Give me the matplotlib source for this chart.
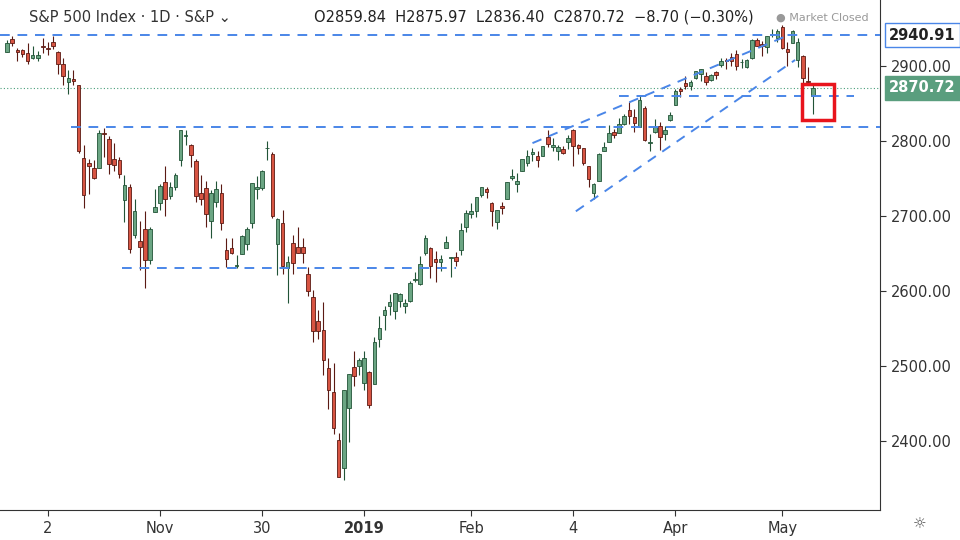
import matplotlib
matplotlib.use("Agg")
import matplotlib.pyplot as plt
from matplotlib.patches import Rectangle

dates = ["09-20","09-21","09-24","09-25","09-26","09-27","09-28",
"10-01","10-02","10-03","10-04","10-05","10-08","10-09","10-10","10-11","10-12","10-15","10-16","10-17","10-18","10-19","10-22","10-23","10-24","10-25","10-26","10-29","10-30","10-31",
"11-01","11-02","11-05","11-06","11-07","11-08","11-09","11-12","11-13","11-14","11-15","11-16","11-19","11-20","11-21","11-23","11-26","11-27","11-28","11-29","11-30",
"12-03","12-04","12-06","12-07","12-10","12-11","12-12","12-13","12-14","12-17","12-18","12-19","12-20","12-21","12-24","12-26","12-27","12-28","12-31",
"01-02","01-03","01-04","01-07","01-08","01-09","01-10","01-11","01-14","01-15","01-16","01-17","01-18","01-22","01-23","01-24","01-25","01-28","01-29","01-30","01-31",
"02-01","02-04","02-05","02-06","02-07","02-08","02-11","02-12","02-13","02-14","02-15","02-19","02-20","02-21","02-22","02-25","02-26","02-27","02-28",
"03-01","03-04","03-05","03-06","03-07","03-08","03-11","03-12","03-13","03-14","03-15","03-18","03-19","03-20","03-21","03-22","03-25","03-26","03-27","03-28","03-29",
"04-01","04-02","04-03","04-04","04-05","04-08","04-09","04-10","04-11","04-12","04-15","04-16","04-17","04-18","04-22","04-23","04-24","04-25","04-26","04-29","04-30",
"05-01","05-02","05-03","05-06","05-07","05-08","05-09"]
opens = [2919,2936,2921,2921,2917,2911,2910,
2927,2924,2932,2919,2903,2878,2882,2874,2777,2771,2764,2764,2811,2803,2776,2774,2721,2738,2674,2667,2683,2641,2705,
2717,2745,2727,2738,2775,2807,2794,2773,2731,2737,2693,2718,2731,2654,2657,2633,2649,2663,2691,2736,2737,
2790,2783,2663,2691,2630,2664,2659,2658,2622,2591,2559,2548,2497,2465,2401,2363,2443,2498,2499,
2477,2491,2475,2536,2568,2580,2573,2586,2580,2586,2614,2609,2651,2657,2643,2638,2657,2644,2645,2654,2685,
2703,2706,2728,2736,2717,2692,2713,2722,2751,2743,2760,2770,2782,2780,2780,2805,2792,2787,2789,
2798,2814,2795,2790,2766,2731,2747,2787,2799,2812,2810,2822,2841,2832,2819,2844,2797,2812,2820,2809,2828,
2848,2869,2877,2873,2884,2889,2886,2881,2892,2901,2908,2912,2916,2905,2899,2910,2935,2929,2925,2941,2937,
2952,2922,2930,2908,2913,2880,2859.84]
highs = [2934,2940,2924,2923,2931,2927,2920,
2937,2932,2940,2920,2910,2894,2894,2875,2795,2776,2775,2814,2817,2806,2797,2778,2754,2743,2723,2693,2707,2685,2736,
2742,2767,2745,2757,2815,2815,2796,2776,2754,2747,2735,2747,2742,2671,2670,2648,2675,2685,2744,2753,2761,
2800,2785,2697,2708,2646,2674,2685,2671,2632,2601,2574,2585,2510,2504,2410,2467,2489,2520,2510,
2520,2493,2538,2566,2580,2595,2597,2597,2589,2613,2625,2646,2675,2659,2653,2648,2673,2645,2652,2690,2708,
2717,2724,2738,2739,2719,2708,2718,2745,2762,2757,2775,2788,2790,2786,2793,2814,2804,2795,2793,
2808,2816,2796,2791,2767,2744,2784,2798,2821,2816,2830,2836,2852,2843,2861,2846,2809,2829,2825,2820,2838,
2869,2872,2886,2881,2893,2896,2892,2889,2893,2910,2910,2917,2921,2909,2909,2936,2937,2933,2940,2949,2949,
2954,2932,2948,2937,2914,2898,2875.97]
lows = [2919,2926,2907,2912,2903,2909,2907,
2917,2915,2922,2889,2874,2863,2874,2784,2710,2729,2749,2764,2779,2756,2760,2750,2692,2651,2670,2628,2604,2636,2705,
2708,2700,2722,2735,2766,2795,2765,2718,2714,2685,2670,2712,2681,2632,2649,2631,2649,2655,2684,2722,2735,
2774,2697,2621,2623,2583,2622,2650,2637,2593,2531,2535,2488,2442,2409,2351,2347,2398,2473,2487,
2467,2444,2475,2525,2547,2568,2562,2578,2570,2585,2612,2607,2648,2617,2612,2627,2657,2619,2633,2648,2678,
2697,2698,2725,2724,2687,2682,2703,2722,2748,2732,2760,2767,2773,2765,2780,2792,2787,2775,2782,
2789,2767,2782,2768,2739,2722,2747,2786,2799,2804,2810,2821,2823,2812,2818,2800,2786,2811,2788,2801,2826,
2848,2859,2869,2868,2883,2880,2874,2880,2882,2899,2896,2900,2894,2897,2897,2909,2927,2913,2917,2939,2932,
2923,2900,2930,2898,2862,2874,2836.40]
closes = [2931,2930,2919,2916,2906,2914,2914,
2925,2923,2926,2902,2886,2884,2880,2786,2728,2767,2751,2810,2809,2769,2768,2756,2741,2656,2706,2659,2641,2683,2712,
2740,2723,2738,2755,2814,2807,2781,2726,2722,2702,2730,2736,2691,2642,2650,2633,2673,2682,2744,2738,2760,
2790,2700,2696,2633,2638,2637,2651,2651,2600,2546,2546,2507,2467,2417,2351,2468,2489,2486,2507,
2510,2448,2532,2550,2574,2585,2597,2596,2583,2610,2616,2636,2671,2633,2639,2642,2665,2644,2640,2681,2704,
2707,2725,2738,2732,2706,2708,2710,2745,2753,2746,2776,2780,2785,2775,2793,2796,2794,2792,2784,
2804,2793,2790,2771,2749,2743,2783,2792,2811,2808,2822,2833,2833,2824,2855,2801,2798,2818,2805,2815,2834,
2867,2867,2873,2879,2893,2896,2878,2888,2888,2907,2906,2907,2900,2905,2908,2934,2927,2926,2940,2943,2946,
2924,2918,2946,2932,2884,2879,2870.72]
tick_dates = ["10-02","11-01","11-30","01-02","02-01","03-04","04-01","05-01"]
tick_labels = ["2","Nov","30","2019","Feb","4","Apr","May"]
y_ticks = [2400,2500,2600,2700,2800,2900]

UP, DN, EDGE = "#6ba583", "#d75442", "#225437"
fig = plt.figure(figsize=(9.6,5.4), dpi=100)
ax = fig.add_axes([0,0.055,0.917,0.945])
n = len(closes)
for i in range(n):
    o,h,l,c = opens[i],highs[i],lows[i],closes[i]
    up = c >= o
    ec = EDGE if up else "#5b1a13"
    ax.vlines(i, l, h, color=ec, lw=0.8, zorder=2)
    ax.add_patch(Rectangle((i-0.35, min(o,c)), 0.7, max(abs(c-o),0.8),
                 facecolor=UP if up else DN, edgecolor=ec, lw=0.6, zorder=3))
xl = (-1.4, 171.2)
ax.set_xlim(*xl); ax.set_ylim(2307, 2988)
dash = dict(color="#4a86e8", lw=1.4, ls=(0,(5,4)), zorder=4)
ax.plot(xl, [2940.91]*2, **dash)
ax.plot([12.5, xl[1]], [2818]*2, **dash)
ax.plot([22.5, 88], [2631]*2, **dash)
ax.plot([120, 166], [2860]*2, **dash)
ax.plot([103, 153.5], [2797, 2942], **dash)
ax.plot([111.5, 154.5], [2706, 2908], **dash)
ax.axhline(closes[-1], color="#4a9e7a", lw=0.8, ls=(0,(1,2)), zorder=1)
ax.add_patch(Rectangle((155.8, 2828), 6.3, 48, fill=False, edgecolor="#e8141c", lw=2.5, zorder=6))
ax.grid(False)
for s in ["top","left"]:
    ax.spines[s].set_visible(False)
ax.spines["right"].set_color("#333333"); ax.spines["bottom"].set_color("#333333")
ax.yaxis.tick_right()
ax.set_yticks(y_ticks); ax.set_yticklabels([f"{v:.2f}" for v in y_ticks])
ax.set_xticks([dates.index(d) for d in tick_dates]); ax.set_xticklabels(tick_labels)
for t in ax.get_xticklabels():
    if t.get_text()=="2019": t.set_fontweight("bold")
ax.tick_params(colors="#333333", labelsize=10.5, length=4)
ax.text(1.01, 2940.91, "2940.91", transform=ax.get_yaxis_transform(), va="center", ha="left",
        fontsize=10.5, fontweight="bold", color="#222222",
        bbox=dict(boxstyle="square,pad=0.3", fc="white", ec="#4a86e8", lw=1))
ax.text(1.01, closes[-1], f"{closes[-1]:.2f}", transform=ax.get_yaxis_transform(), va="center", ha="left",
        fontsize=10.5, fontweight="bold", color="white",
        bbox=dict(boxstyle="square,pad=0.3", fc="#5a9e7e", ec="#5a9e7e"))
fig.text(0.03, 0.968, "S&P 500 Index · 1D · S&P ⌄", fontsize=10.5, color="#333333", va="center")
fig.text(0.327, 0.968, "O2859.84  H2875.97  L2836.40  C2870.72  −8.70 (−0.30%)", fontsize=10.5, color="#222222", va="center")
fig.text(0.905, 0.968, "● Market Closed", fontsize=8, color="#999999", va="center", ha="right")
fig.text(0.958, 0.028, "☼", fontsize=11, color="#555555", ha="center", va="center")
fig.savefig("out.png", dpi=100)
